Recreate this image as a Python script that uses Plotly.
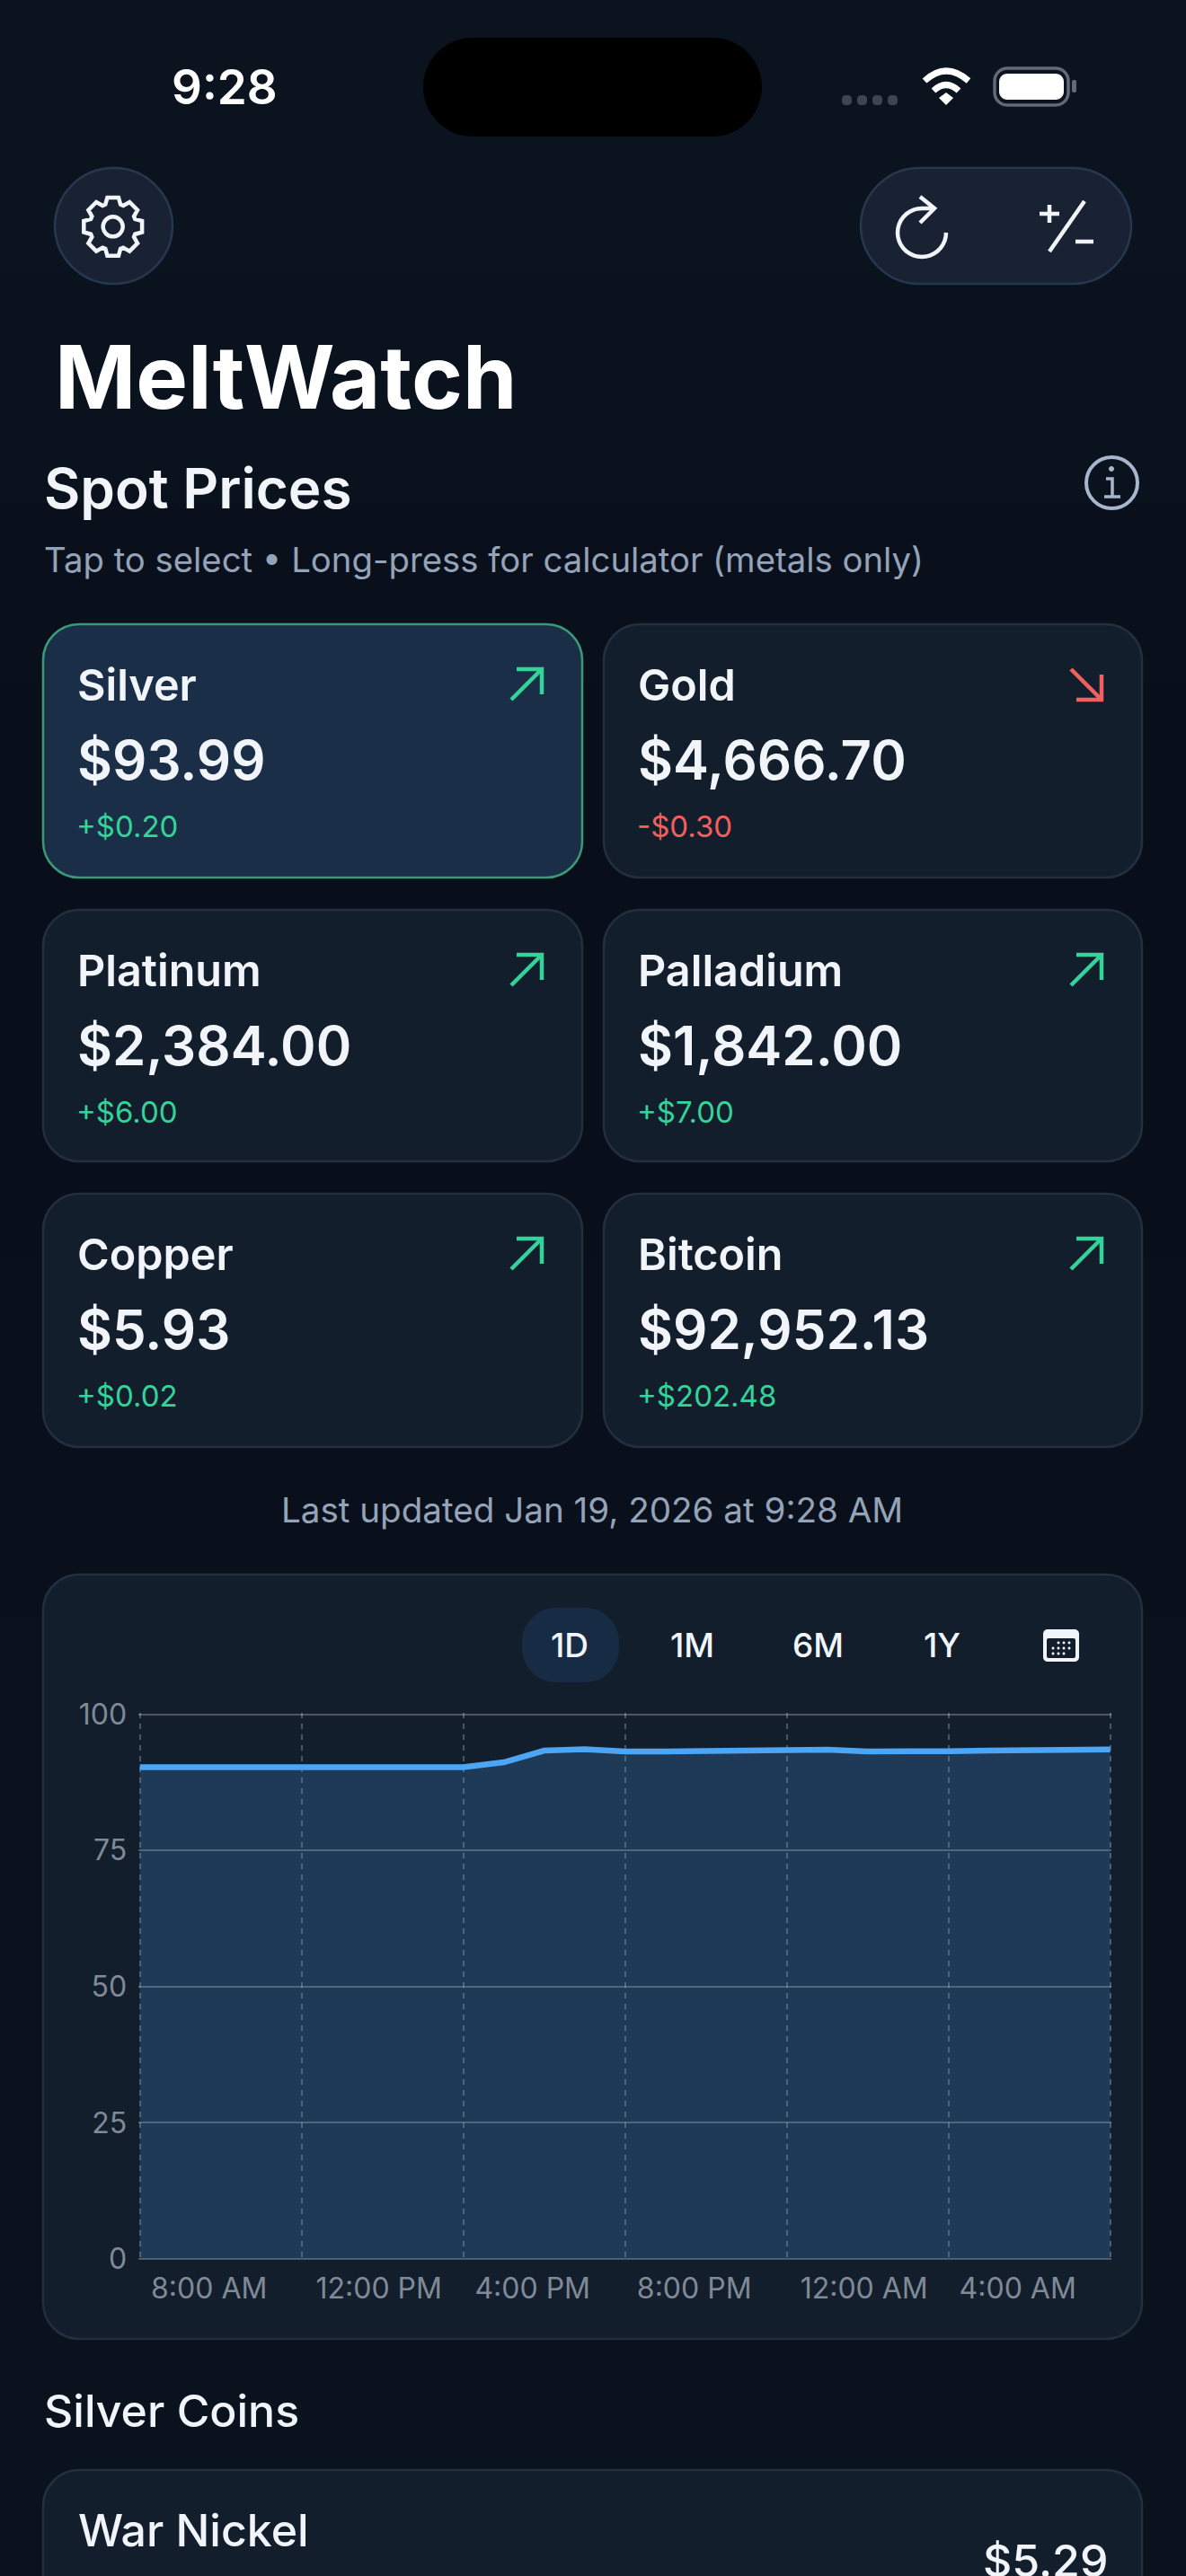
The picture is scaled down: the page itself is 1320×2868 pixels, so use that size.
#!/usr/bin/env python3
"""MeltWatch spot price screen drawn with Plotly."""

import math

import plotly.graph_objects as go

W, H = 1320, 2868
FONT = "Inter"

# Spot cards
CARD_NAMES = ["Silver", "Gold", "Platinum", "Palladium", "Copper", "Bitcoin"]
CARD_PRICES = ["$93.99", "$4,666.70", "$2,384.00", "$1,842.00", "$5.93", "$92,952.13"]
CARD_CHANGES = ["+$0.20", "-$0.30", "+$6.00", "+$7.00", "+$0.02", "+$202.48"]
CARD_UP = [True, False, True, True, True, True]

# Intraday silver chart
TIMES = [
    "2026-01-18 08:00", "2026-01-18 09:00", "2026-01-18 10:00", "2026-01-18 11:00",
    "2026-01-18 12:00", "2026-01-18 13:00", "2026-01-18 14:00", "2026-01-18 15:00",
    "2026-01-18 16:00", "2026-01-18 17:00", "2026-01-18 18:00", "2026-01-18 19:00",
    "2026-01-18 20:00", "2026-01-18 21:00", "2026-01-18 22:00", "2026-01-18 23:00",
    "2026-01-19 00:00", "2026-01-19 01:00", "2026-01-19 02:00", "2026-01-19 03:00",
    "2026-01-19 04:00", "2026-01-19 05:00", "2026-01-19 06:00", "2026-01-19 07:00",
    "2026-01-19 08:00",
]
SILVER = [
    90.3, 90.3, 90.3, 90.3, 90.3, 90.3, 90.3, 90.3, 90.3,
    91.2, 93.35, 93.6, 93.2, 93.2, 93.25, 93.35, 93.5, 93.5,
    93.2, 93.1, 93.25, 93.35, 93.4, 93.45, 93.55,
]
Y_TICKS = [0, 25, 50, 75, 100]
X_TICKS = [
    "2026-01-18 08:00", "2026-01-18 12:00", "2026-01-18 16:00", "2026-01-18 20:00",
    "2026-01-19 00:00", "2026-01-19 04:00", "2026-01-19 08:00",
]
X_TICK_LABELS = ["8:00 AM", "12:00 PM", "4:00 PM", "8:00 PM", "12:00 AM", "4:00 AM", ""]
RANGE_LABELS = ["1D", "1M", "6M", "1Y"]

WHITE = "#f1f5fa"
GREEN = "#34d399"
RED = "#f0605c"
MUTED = "#94a3b8"
CARD = "#131e2c"
CARD_EDGE = "#232f3e"


def pt(x, y):
    return f"{x / W:.5f} {1 - y / H:.5f}"


def poly(points, close=False):
    d = "M " + " L ".join(pt(x, y) for x, y in points)
    return d + (" Z" if close else "")


def rounded(x0, y0, x1, y1, r):
    k = r * 0.45
    return (
        f"M {pt(x0 + r, y0)} L {pt(x1 - r, y0)} "
        f"C {pt(x1 - k, y0)} {pt(x1, y0 + k)} {pt(x1, y0 + r)} L {pt(x1, y1 - r)} "
        f"C {pt(x1, y1 - k)} {pt(x1 - k, y1)} {pt(x1 - r, y1)} L {pt(x0 + r, y1)} "
        f"C {pt(x0 + k, y1)} {pt(x0, y1 - k)} {pt(x0, y1 - r)} L {pt(x0, y0 + r)} "
        f"C {pt(x0, y0 + k)} {pt(x0 + k, y0)} {pt(x0 + r, y0)} Z"
    )


shapes = []
annotations = []


def add_path(path, fill=None, line=None, width=0):
    shapes.append(dict(
        type="path", xref="paper", yref="paper", path=path, layer="below",
        fillcolor=fill or "rgba(0,0,0,0)",
        line=dict(color=line or "rgba(0,0,0,0)", width=width),
    ))


def add_text(x, baseline, text, size, color=WHITE, weight=400, anchor="left"):
    annotations.append(dict(
        xref="paper", yref="paper", x=x / W, y=1 - (baseline - 0.3635 * size) / H,
        text=text, showarrow=False, xanchor=anchor, yanchor="middle", borderpad=0,
        font=dict(family=FONT, size=size, color=color, weight=weight),
    ))


def add_arrow(cx, cy, up):
    # cx, cy is the centre of the arrow icon
    color = GREEN if up else RED
    if up:
        add_path(poly([(cx - 17, cy + 17), (cx + 17, cy - 17)]), line=color, width=4.5)
        add_path(poly([(cx - 11, cy - 17), (cx + 17, cy - 17), (cx + 17, cy + 11)]), line=color, width=4.5)
    else:
        add_path(poly([(cx - 17, cy - 17), (cx + 17, cy + 17)]), line=color, width=4.5)
        add_path(poly([(cx - 11, cy + 17), (cx + 17, cy + 17), (cx + 17, cy - 11)]), line=color, width=4.5)


# Page background, a little darker behind the cards
for y0, y1, col in [
    (0, 300, "#0b131f"), (300, 560, "#0a121e"), (560, 760, "#09101c"),
    (760, 1400, "#080f1a"), (1400, 1800, "#09101c"), (1800, H, "#0a121e"),
]:
    shapes.append(dict(type="rect", xref="paper", yref="paper", x0=0, x1=1,
                       y0=1 - y1 / H, y1=1 - y0 / H, layer="below",
                       fillcolor=col, line=dict(width=0)))

# Status bar
add_text(250, 116, "9:28", 53, "#ffffff", 600, "center")
add_path(rounded(471, 42, 848, 152, 55), fill="#000000")
for x in (937, 954, 971, 988):
    add_path(rounded(x, 106, x + 11, 117, 4), fill="#3d4550")
add_path(f"M {pt(1029, 90)} Q {pt(1053, 68)} {pt(1078, 90)}", line="#ffffff", width=7)
add_path(f"M {pt(1039, 101)} Q {pt(1053, 88)} {pt(1067, 101)}", line="#ffffff", width=7)
add_path(poly([(1045, 109), (1053, 103), (1061, 109), (1053, 117)], True), fill="#ffffff")
add_path(rounded(1107, 76, 1189, 117, 14), line="#646a75", width=3.5)
add_path(rounded(1112, 82, 1184, 111, 9), fill="#ffffff")
add_path(rounded(1193, 89, 1198, 103, 2), fill="#646a75")

# Toolbar buttons
add_path(rounded(61, 187, 192, 316, 65), fill="#182232", line="#26384f", width=2.5)
gear = []
gcx, gcy = 125.7, 252.3
for i in range(8):
    a = -math.pi / 2 + i * math.pi / 4
    for da, rad in [(-0.33, 26), (-0.19, 33), (0.19, 33), (0.33, 26)]:
        gear.append((gcx + rad * math.cos(a + da), gcy + rad * math.sin(a + da)))
add_path(poly(gear, True), line=WHITE, width=4.5)
add_path(rounded(gcx - 11, gcy - 11, gcx + 11, gcy + 11, 11), line=WHITE, width=4.5)

add_path(rounded(958, 187, 1259, 316, 65), fill="#182232", line="#26384f", width=2.5)
# Refresh icon
arc = [(1026 + 27 * math.cos(math.radians(a)), 259 + 27 * math.sin(math.radians(a)))
       for a in range(-90, -370, -10)]
add_path(poly([(1040, 232)] + arc), line=WHITE, width=4.5)
add_path(poly([(1024, 219), (1040, 232), (1024, 248)]), line=WHITE, width=4.5)
# Plus/minus icon
add_path(poly([(1157, 238), (1179, 238)]), line=WHITE, width=4.5)
add_path(poly([(1168, 228), (1168, 248)]), line=WHITE, width=4.5)
add_path(poly([(1207, 224), (1168, 280)]), line=WHITE, width=4.5)
add_path(poly([(1197, 269), (1217, 269)]), line=WHITE, width=4.5)

# Headings
add_text(60, 455, "MeltWatch", 97, "#ffffff", 700)
add_text(48, 566, "Spot Prices", 62, WHITE, 600)
add_text(48, 637, "Tap to select \u2022 Long-press for calculator (metals only)", 38.3, MUTED, 400)

# Info icon
add_path(rounded(1209, 509, 1266, 566, 28.5), line="#a6b6cc", width=4)
add_path(rounded(1234, 519, 1240, 525, 3), fill="#a6b6cc")
add_path(poly([(1231, 533), (1238, 533), (1238, 553)]), line="#a6b6cc", width=3.5)
add_path(poly([(1229, 553), (1247, 553)]), line="#a6b6cc", width=3.5)

# Spot cards
COL_X = [(48, 648), (672, 1271)]
ROW_Y = [(695, 977), (1013, 1293), (1329, 1611)]
for i, name in enumerate(CARD_NAMES):
    x0, x1 = COL_X[i % 2]
    y0, y1 = ROW_Y[i // 2]
    selected = i == 0
    add_path(rounded(x0, y0, x1, y1, 40),
             fill="#1a2e47" if selected else CARD,
             line="#3a9a78" if selected else CARD_EDGE,
             width=2.5)
    add_text(x0 + 37, y0 + 85, name, 48.5, WHITE, 600)
    add_text(x0 + 37, y0 + 173, CARD_PRICES[i], 60, WHITE, 600)
    add_text(x0 + 36, y0 + 237, CARD_CHANGES[i], 33, GREEN if CARD_UP[i] else RED, 400)
    add_arrow(x1 - 62, y0 + 67, CARD_UP[i])

add_text(659, 1695, "Last updated Jan 19, 2026 at 9:28 AM", 38.6, MUTED, 400, "center")

# Chart card and range selector
add_path(rounded(48, 1753, 1271, 2604, 40), fill=CARD, line=CARD_EDGE, width=2.5)
add_path(rounded(581, 1790, 689, 1873, 38), fill="#172c44")
for label, cx in zip(RANGE_LABELS, (634, 770, 910, 1048)):
    add_text(cx, 1845, label, 37, WHITE, 500, "center")

# Calendar icon
add_path(rounded(1161, 1814, 1201, 1850, 5), fill=WHITE)
add_path(rounded(1165, 1824, 1197, 1846, 2), fill=CARD)
for dy, dots in [(1829, (1178, 1184, 1190)), (1835, (1172, 1178, 1184, 1190)), (1841, (1172, 1178, 1184))]:
    for dx in dots:
        add_path(rounded(dx - 1.5, dy - 1.5, dx + 1.5, dy + 1.5, 1.5), fill=WHITE)

# Coin list
add_text(48, 2702, "Silver Coins", 50, WHITE, 500)
add_path(rounded(48, 2750, 1271, 2960, 40), fill=CARD, line=CARD_EDGE, width=2.5)
add_text(86, 2835, "War Nickel", 50, WHITE, 500)
# the reference screenshot also ends halfway through this price
add_text(1234, 2869, "$5.29", 50, WHITE, 500, "right")

fig = go.Figure()
fig.add_trace(go.Scatter(
    x=TIMES, y=SILVER, mode="lines", fill="tozeroy",
    line=dict(color="#4da6f5", width=6.5),
    fillcolor="rgba(77,166,245,0.21)",
    cliponaxis=False, hoverinfo="skip",
))

GRID = "rgba(255,255,255,0.25)"
# the ranges overshoot by a pixel or two, plotly drops gridlines that sit right on the ends
fig.update_layout(
    width=W, height=H, autosize=False,
    margin=dict(l=0, r=0, t=0, b=0, pad=0, autoexpand=False),
    paper_bgcolor="#0a121e", plot_bgcolor="rgba(0,0,0,0)",
    showlegend=False, shapes=shapes, annotations=annotations,
    font=dict(family=FONT),
    xaxis=dict(
        domain=[154.2 / W, 1237.2 / W], type="date",
        range=["2026-01-18 07:58", "2026-01-19 08:02"], tickmode="array",
        tickvals=X_TICKS,
        # long labels get padded so they sit where the short ones do
        ticktext=[("\u00a0\u00a0" + t) if t.startswith("12") else t for t in X_TICK_LABELS],
        showgrid=True, gridcolor=GRID, griddash="6px,6px", gridwidth=2,
        zeroline=False, showline=False, ticks="",
        ticklabelshift=77, ticklabelstandoff=9,
        tickfont=dict(family=FONT, size=32, color="#808a97"),
    ),
    yaxis=dict(
        domain=[1 - 2516.5 / H, 1 - 1907.2 / H],
        range=[-0.25, 100.25], tickmode="array", tickvals=Y_TICKS,
        showgrid=True, gridcolor=GRID, gridwidth=2,
        zeroline=False, showline=False, ticks="",
        ticklabelstandoff=12,
        tickfont=dict(family=FONT, size=32, color="#808a97"),
    ),
)

fig.write_html(
    "out.html",
    config={"displayModeBar": False},
    post_script="document.body.style.margin='0';document.body.style.background='#0a121e';",
)
